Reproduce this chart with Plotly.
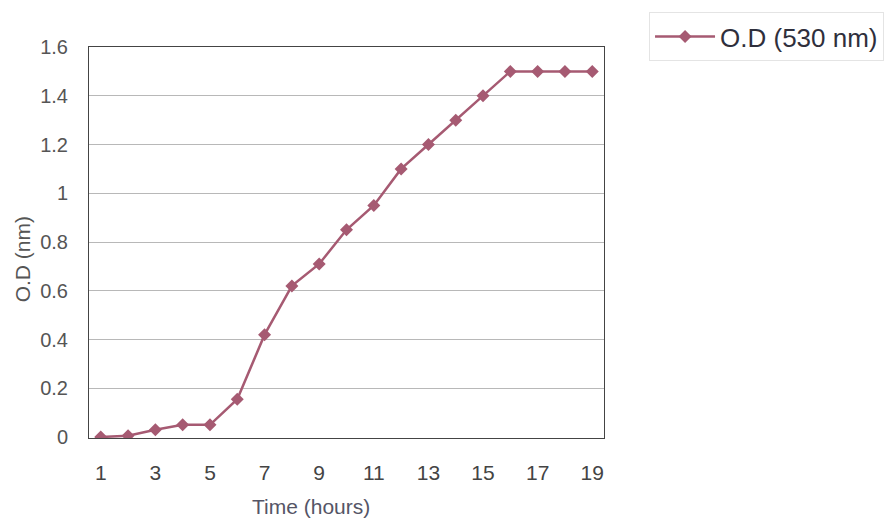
import plotly.graph_objects as go

hours = list(range(1, 20))
od_530 = [0.0, 0.005, 0.03, 0.05, 0.05, 0.155, 0.42, 0.62, 0.71, 0.85,
          0.95, 1.1, 1.2, 1.3, 1.4, 1.5, 1.5, 1.5, 1.5]
x_ticks = [1, 3, 5, 7, 9, 11, 13, 15, 17, 19]
y_ticks = [0, 0.2, 0.4, 0.6, 0.8, 1.0, 1.2, 1.4, 1.6]

line_color = "#a65a72"
font_family = "Liberation Sans, Arial, sans-serif"

# plot area in pixels (from the reference)
L, R, T, B = 89, 615, 45, 438
PW, PH = R - L, B - T

fig = go.Figure()
fig.add_trace(go.Scatter(
    x=hours, y=od_530, mode="lines+markers", name="O.D (530 nm)",
    line=dict(color=line_color, width=2.5),
    marker=dict(symbol="diamond", size=10, color=line_color),
))

fig.update_layout(
    width=896, height=521,
    margin=dict(l=L, r=896 - R, t=T, b=521 - B),
    paper_bgcolor="white", plot_bgcolor="white",
    font=dict(family=font_family, color="#555555", size=20),
    showlegend=True,
    legend=dict(x=(661 - L) / PW, y=(B - 10) / PH, xanchor="left", yanchor="top",
                bordercolor="#e4e4e4", borderwidth=1,
                font=dict(size=26, color="#2f2f3c"),
                itemwidth=60),
    xaxis=dict(range=[0.57, 19.43], tickvals=x_ticks, showgrid=False,
               showline=True, linecolor="#444444", linewidth=1, mirror=True,
               ticks="", ticklabelstandoff=16, zeroline=False,
               tickfont=dict(size=21, color="#444444")),
    yaxis=dict(range=[-0.004, 1.6], tickvals=y_ticks, showgrid=True,
               gridcolor="#b8b8b8", gridwidth=1,
               showline=True, linecolor="#444444", linewidth=1, mirror=True,
               ticks="", ticklabelstandoff=16, zeroline=False,
               tickfont=dict(size=20, color="#555555")),
)

fig.add_annotation(text="Time (hours)", xref="paper", yref="paper",
                   x=(316 - L) / PW, y=-(507 - B) / PH,
                   showarrow=False, font=dict(size=21, color="#555566"),
                   xanchor="center", yanchor="middle")
fig.add_annotation(text="O.D (nm)", xref="paper", yref="paper",
                   x=-(L - 22) / PW, y=(B - 258) / PH, textangle=-90,
                   showarrow=False, font=dict(size=21, color="#555555"),
                   xanchor="center", yanchor="middle")

fig.write_html("out.html")
